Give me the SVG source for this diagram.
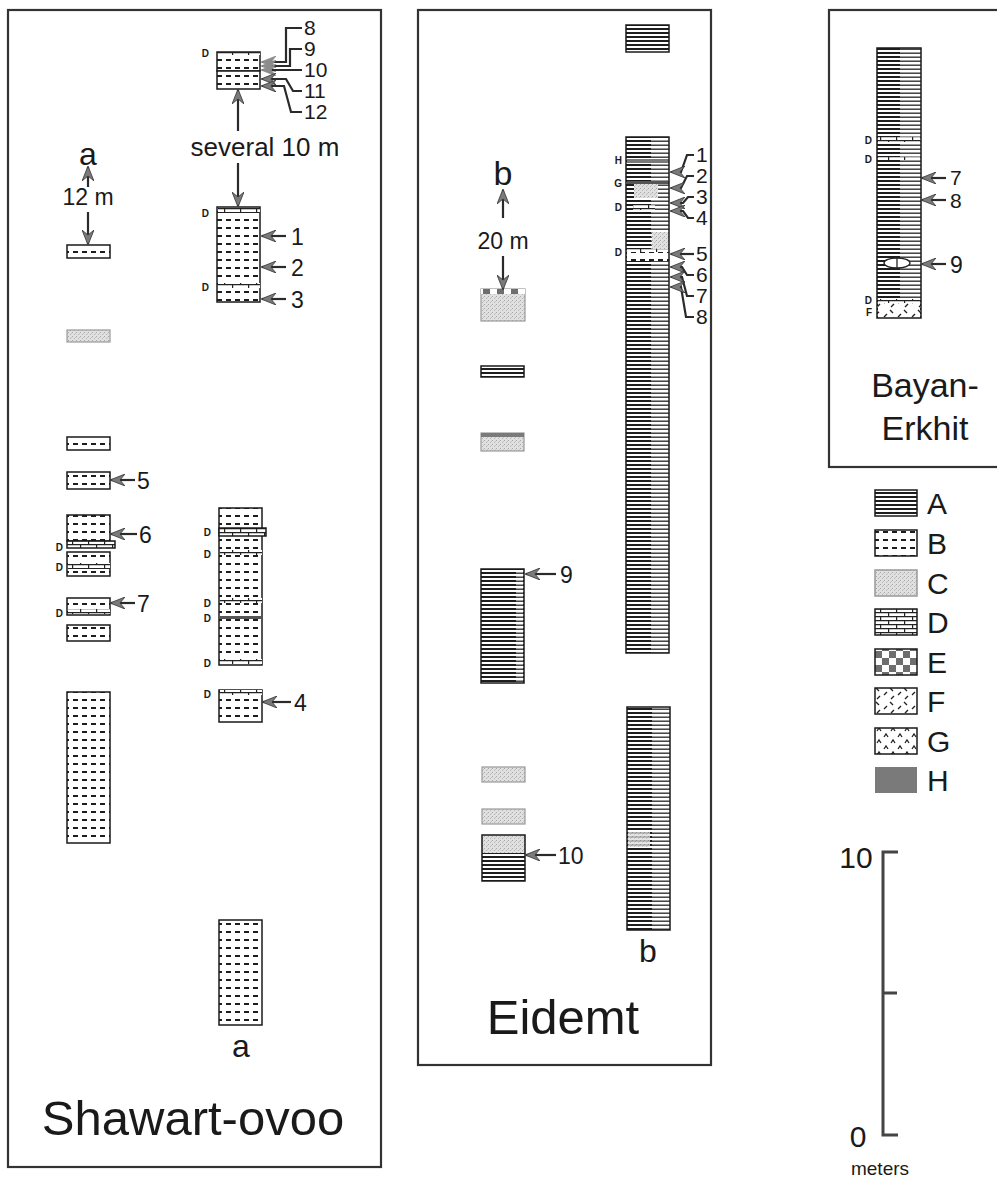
<svg xmlns="http://www.w3.org/2000/svg" width="997" height="1178" viewBox="0 0 997 1178">
<style>
text{font-family:"Liberation Sans",Arial,Helvetica,sans-serif;fill:#1a1a1a}
.panel{fill:none;stroke:#333;stroke-width:2.2}
.col{stroke:#1a1a1a;stroke-width:1.5}
.ol{fill:none;stroke:#1a1a1a;stroke-width:1.5}
.lbl{font-size:23px}
.sl{font-size:21px}
.d{font-size:10px;font-weight:bold;text-anchor:end}
.ttl{font-size:49px;text-anchor:middle}
.ar{fill:none;stroke:#2a2a2a;stroke-width:2.2;marker-end:url(#ah)}
.arg{fill:none;stroke:#2a2a2a;stroke-width:2.2;marker-end:url(#ahg)}
.A{fill:url(#pA)}.A2{fill:url(#pA2)}.B{fill:url(#pB)}.C{fill:url(#pC)}.D{fill:url(#pD)}.E{fill:url(#pE)}.F{fill:url(#pF)}.G{fill:url(#pG)}.H{fill:#7a7a7a}
</style>
<defs>
<marker id="ah" markerUnits="userSpaceOnUse" markerWidth="15" markerHeight="12" viewBox="0 0 15 12" refX="14" refY="6" orient="auto"><path d="M0,0 L15,6 L0,12 L5,6 Z" fill="#7a7a7a" stroke="#333" stroke-width="0.8"/></marker>
<marker id="ahg" markerUnits="userSpaceOnUse" markerWidth="15" markerHeight="12" viewBox="0 0 15 12" refX="14" refY="6" orient="auto"><path d="M0,0 L15,6 L0,12 L5,6 Z" fill="#8c8c8c" stroke="#8c8c8c" stroke-width="0.8"/></marker>
<pattern id="pA" patternUnits="userSpaceOnUse" width="12" height="4"><rect width="12" height="4" fill="#fff"/><rect width="12" height="2" fill="#1e1e1e"/></pattern>
<pattern id="pA2" patternUnits="userSpaceOnUse" width="12" height="4"><rect width="12" height="4" fill="#fff"/><rect y="0.5" width="12" height="1.4" fill="#333"/></pattern>
<pattern id="pB" patternUnits="userSpaceOnUse" width="9" height="8"><rect width="9" height="8" fill="#fff"/><rect x="1" y="3" width="5" height="2" fill="#1e1e1e"/></pattern>
<pattern id="pC" patternUnits="userSpaceOnUse" width="4" height="4"><rect width="4" height="4" fill="#e0e0e0"/><rect width="1" height="1" fill="#a8a8a8"/><rect x="2" y="2" width="1" height="1" fill="#b5b5b5"/><rect x="3" y="1" width="1" height="1" fill="#c4c4c4"/></pattern>
<pattern id="pD" patternUnits="userSpaceOnUse" width="16" height="8"><rect width="16" height="8" fill="#fff"/><path d="M0,0.6H16M0,4.6H16M0.6,0.6V4.6M8.6,4.6V8" stroke="#222" stroke-width="1.2" fill="none"/></pattern>
<pattern id="pE" patternUnits="userSpaceOnUse" width="14" height="14"><rect width="14" height="14" fill="#fff"/><rect width="7" height="7" fill="#6e6e6e"/><rect x="7" y="7" width="7" height="7" fill="#6e6e6e"/></pattern>
<pattern id="pF" patternUnits="userSpaceOnUse" width="14" height="14"><rect width="14" height="14" fill="#fff"/><path d="M2,9 L5,6 M8,2 L11,5 M9,13 L12,10" stroke="#222" stroke-width="1.4"/></pattern>
<pattern id="pG" patternUnits="userSpaceOnUse" width="14" height="12"><rect width="14" height="12" fill="#fff"/><path d="M2,5 L4,2 L6,5 M9,11 L11,8 L13,11" stroke="#222" stroke-width="1.3" fill="none"/></pattern>
</defs>

<g id="panel-shawart-ovoo">
<rect class="panel" x="8" y="10" width="373" height="1157"/>
<text class="ttl" x="193" y="1135">Shawart-ovoo</text>
</g>

<g id="sh-left-column">
<text x="88" y="165" font-size="32" text-anchor="middle">a</text>
<text x="88" y="205" font-size="23" text-anchor="middle">12 m</text>
<rect class="B col" x="67" y="245" width="43" height="13"/>
<rect class="C" x="67" y="330" width="43" height="12" stroke="#999" stroke-width="1.2"/>
<rect class="B col" x="67" y="437" width="43" height="13"/>
<rect class="B col" x="67" y="472" width="43" height="17"/>
<rect class="B col" x="67" y="515" width="43" height="26"/>
<rect class="D col" x="67" y="541" width="48" height="7"/>
<text class="d" x="63" y="551">D</text>
<rect class="B col" x="67" y="552" width="43" height="24"/>
<rect class="D" x="68" y="563" width="42" height="6"/>
<text class="d" x="63" y="571">D</text>
<rect class="B col" x="67" y="598" width="43" height="17"/>
<rect class="D" x="68" y="609" width="42" height="5"/>
<text class="d" x="63" y="617">D</text>
<rect class="B col" x="67" y="625" width="43" height="16"/>
<rect class="B col" x="67" y="692" width="43" height="151"/>
<text class="lbl" x="137" y="489">5</text>
<text class="lbl" x="139" y="543">6</text>
<text class="lbl" x="137" y="612">7</text>
</g>

<g id="sh-right-column">
<rect class="B col" x="217" y="52" width="43" height="19"/>
<rect class="B col" x="217" y="71" width="43" height="18"/>
<rect class="D" x="218" y="52" width="42" height="3"/>
<text class="d" x="209" y="57">D</text>
<text class="sl" x="304" y="35">8</text>
<text class="sl" x="304" y="56">9</text>
<text class="sl" x="304" y="77">10</text>
<text class="sl" x="304" y="98">11</text>
<text class="sl" x="304" y="119">12</text>
<text x="265" y="156" font-size="26" text-anchor="middle">several 10 m</text>
<rect class="B col" x="217" y="207" width="43" height="95"/>
<rect class="D" x="218" y="208" width="42" height="5"/>
<rect class="D" x="218" y="283" width="42" height="5"/>
<text class="d" x="209" y="217">D</text>
<text class="d" x="209" y="291">D</text>
<text class="lbl" x="291" y="245">1</text>
<text class="lbl" x="291" y="276">2</text>
<text class="lbl" x="291" y="308">3</text>
<rect class="B col" x="219" y="508" width="43" height="157"/>
<rect class="D col" x="219" y="528" width="47" height="8"/>
<rect class="D" x="220" y="550" width="42" height="5"/>
<rect class="D" x="220" y="598" width="42" height="5"/>
<rect x="220" y="616" width="42" height="3" fill="#555"/>
<rect class="D" x="220" y="659" width="42" height="5"/>
<text class="d" x="211" y="536">D</text>
<text class="d" x="211" y="558">D</text>
<text class="d" x="211" y="607">D</text>
<text class="d" x="211" y="622">D</text>
<text class="d" x="211" y="667">D</text>
<rect class="B col" x="219" y="690" width="43" height="32"/>
<rect class="D" x="220" y="690" width="42" height="5"/>
<text class="d" x="211" y="698">D</text>
<text class="lbl" x="294" y="711">4</text>
<rect class="B col" x="219" y="920" width="43" height="105"/>
<text x="241" y="1057" font-size="32" text-anchor="middle">a</text>
</g>

<g id="panel-eidemt">
<rect class="panel" x="418" y="10" width="293" height="1055"/>
<text class="ttl" x="563" y="1034">Eidemt</text>
</g>

<g id="eid-left-column">
<text x="503" y="185" font-size="34" text-anchor="middle">b</text>
<text x="503" y="249" font-size="23" text-anchor="middle">20 m</text>
<rect class="C" x="481" y="289" width="44" height="32" stroke="#999" stroke-width="1.2"/>
<rect class="E" x="481" y="289" width="44" height="5"/>
<rect class="A col" x="481" y="366" width="43" height="11"/>
<rect class="C" x="481" y="433" width="43" height="18" stroke="#999" stroke-width="1.2"/>
<rect class="H" x="481" y="433" width="43" height="4"/>
<rect class="A col" x="481" y="569" width="43" height="114"/>
<rect class="A2" x="516" y="570" width="7" height="112"/>
<text class="lbl" x="560" y="583">9</text>
<rect class="C" x="482" y="767" width="43" height="15" stroke="#999" stroke-width="1.2"/>
<rect class="C" x="482" y="809" width="43" height="15" stroke="#999" stroke-width="1.2"/>
<rect class="C" x="482" y="835" width="43" height="18"/>
<rect class="A" x="482" y="853" width="43" height="28"/>
<rect class="ol" x="482" y="835" width="43" height="46"/>
<text class="lbl" x="558" y="864">10</text>
</g>

<g id="eid-right-column">
<rect class="A col" x="626" y="25" width="43" height="27"/>
<rect class="A" x="626" y="137" width="43" height="516"/>
<rect class="A2" x="651" y="137" width="18" height="516"/>
<rect class="H" x="627" y="159" width="42" height="4"/>
<rect x="627" y="181" width="42" height="3" fill="#555"/>
<rect class="C" x="634" y="184" width="24" height="14"/>
<rect class="D" x="633" y="205" width="22" height="5"/>
<rect class="C" x="652" y="232" width="17" height="18"/>
<rect class="D" x="627" y="249" width="42" height="3"/>
<rect class="B" x="627" y="252" width="42" height="9"/>
<rect class="ol" x="626" y="137" width="43" height="516"/>
<text class="d" x="622" y="164">H</text>
<text class="d" x="622" y="187">G</text>
<text class="d" x="622" y="211">D</text>
<text class="d" x="622" y="256">D</text>
<text class="sl" x="696" y="162">1</text>
<text class="sl" x="696" y="183">2</text>
<text class="sl" x="696" y="204">3</text>
<text class="sl" x="696" y="225">4</text>
<text class="sl" x="696" y="261">5</text>
<text class="sl" x="696" y="282">6</text>
<text class="sl" x="696" y="303">7</text>
<text class="sl" x="696" y="324">8</text>
<rect class="A" x="627" y="707" width="43" height="223"/>
<rect class="A2" x="652" y="707" width="18" height="223"/>
<rect class="C" x="628" y="832" width="22" height="15" opacity="0.8"/>
<rect class="ol" x="627" y="707" width="43" height="223"/>
<text x="648" y="962" font-size="32" text-anchor="middle">b</text>
</g>

<g id="panel-bayan-erkhit">
<rect class="panel" x="829" y="10" width="190" height="457"/>
<text x="925" y="397" font-size="34" text-anchor="middle">Bayan-</text>
<text x="925" y="440" font-size="34" text-anchor="middle">Erkhit</text>
</g>

<g id="bayan-column">
<rect class="A" x="877" y="48" width="44" height="270"/>
<rect class="A2" x="900" y="48" width="21" height="251"/>
<rect class="D" x="878" y="137" width="42" height="5"/>
<rect class="D" x="878" y="157" width="42" height="3"/>
<ellipse cx="897" cy="263" rx="13" ry="5" fill="#fff" stroke="#222" stroke-width="1.3"/>
<line x1="897" y1="258" x2="897" y2="268" stroke="#222" stroke-width="1.3"/>
<rect class="D" x="878" y="299" width="42" height="4"/>
<rect class="F" x="878" y="303" width="42" height="15"/>
<rect class="ol" x="877" y="48" width="44" height="270"/>
<text class="d" x="872" y="144">D</text>
<text class="d" x="872" y="163">D</text>
<text class="d" x="872" y="304">D</text>
<text class="d" x="872" y="316">F</text>
<text class="sl" x="950" y="185">7</text>
<text class="sl" x="950" y="208">8</text>
<text class="lbl" x="950" y="273">9</text>
</g>

<g id="legend">
<rect class="A col" x="875" y="490" width="42" height="26"/><text x="927" y="514" font-size="30">A</text>
<rect class="B col" x="875" y="530" width="42" height="26"/><text x="927" y="554" font-size="30">B</text>
<rect class="C" x="875" y="570" width="42" height="26" stroke="#999" stroke-width="1.5"/><text x="927" y="594" font-size="30">C</text>
<rect class="D col" x="875" y="609" width="42" height="26"/><text x="927" y="633" font-size="30">D</text>
<rect class="E col" x="875" y="649" width="42" height="26"/><text x="927" y="673" font-size="30">E</text>
<rect class="F col" x="875" y="688" width="42" height="26"/><text x="927" y="712" font-size="30">F</text>
<rect class="G col" x="875" y="728" width="42" height="26"/><text x="927" y="752" font-size="30">G</text>
<rect class="H" x="875" y="767" width="42" height="26"/><text x="927" y="791" font-size="30">H</text>
</g>

<g id="scale-bar">
<path d="M898,852 H883 V1135 H898 M883,993 H897" fill="none" stroke="#444" stroke-width="3"/>
<text x="856" y="868" font-size="30" text-anchor="middle">10</text>
<text x="858" y="1147" font-size="30" text-anchor="middle">0</text>
<text x="880" y="1175" font-size="19" text-anchor="middle">meters</text>
</g>

<g id="connectors">
<path class="ar" d="M88,187 V167"/>
<path class="ar" d="M88,212 V244"/>
<path class="ar" d="M135,480 H111"/>
<path class="ar" d="M137,534 H111"/>
<path class="ar" d="M135,603 H111"/>
<path class="arg" d="M302,28 H286 V62 H262"/>
<path class="arg" d="M302,49 H290 V66 H262"/>
<path class="arg" d="M302,70 H293 L288,70 H262"/>
<path class="ar" d="M302,91 H293 L286,79 H262"/>
<path class="ar" d="M302,112 H291 L284,86 H262"/>
<path class="ar" d="M238,131 V90"/>
<path class="ar" d="M238,163 V206"/>
<path class="ar" d="M286,236 H262"/>
<path class="ar" d="M286,267 H262"/>
<path class="ar" d="M286,299 H262"/>
<path class="ar" d="M291,702 H263"/>
<path class="ar" d="M503,218 V190"/>
<path class="ar" d="M503,256 V289"/>
<path class="ar" d="M556,574 H526"/>
<path class="ar" d="M556,855 H526"/>
<path class="ar" d="M694,155 H687 L681,172 H671"/>
<path class="ar" d="M694,176 H687 L681,188 H671"/>
<path class="ar" d="M694,197 H688 L683,203 H671"/>
<path class="ar" d="M694,218 H688 L683,211 H671"/>
<path class="ar" d="M694,254 H671"/>
<path class="ar" d="M694,275 H687 L682,267 H671"/>
<path class="ar" d="M694,296 H687 L682,277 H671"/>
<path class="ar" d="M694,317 H686 L681,287 H671"/>
<path class="ar" d="M946,178 H922"/>
<path class="ar" d="M946,200 H922"/>
<path class="ar" d="M946,264 H922"/>
</g>
</svg>
